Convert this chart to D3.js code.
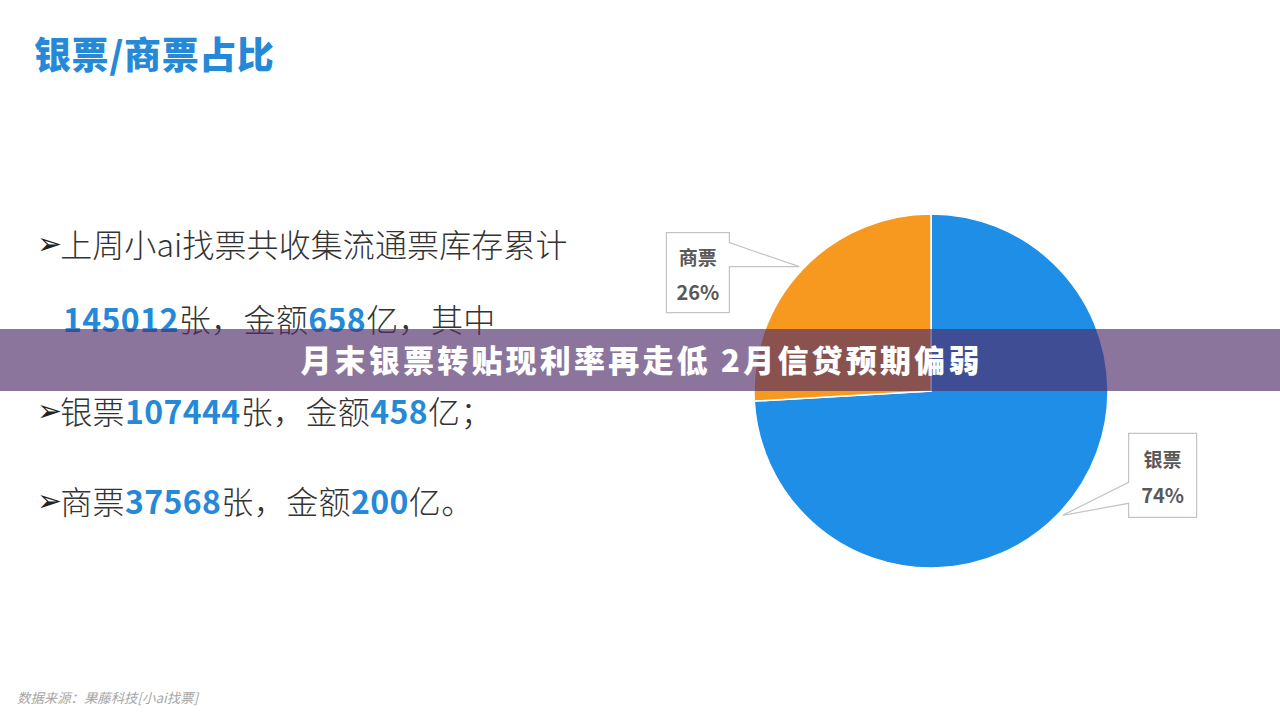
<!DOCTYPE html>
<html>
<head>
<meta charset="utf-8">
<script src="https://cdn.jsdelivr.net/npm/d3@7"></script>
<style>
  html, body { margin: 0; padding: 0; background: #ffffff; }
  svg { display: block; }
</style>
</head>
<body>
<svg id="chart" width="1280" height="720"></svg>
<script>
// ---------- data ----------
const categories = ["银票", "商票"];
const counts = [107444, 37568];      // 张
const amounts = [458, 200];          // 亿
const totalCount = 145012;
const totalAmount = 658;
const pageTitle = "银票/商票占比";
const bannerTitle = "月末银票转贴现利率再走低 2月信贷预期偏弱";
const sourceNote = "数据来源：果藤科技[小ai找票]";

// ---------- setup ----------
const W = 1280, H = 720;
const svg = d3.select("#chart");
const CJK = "'Noto Sans CJK SC', 'Microsoft YaHei', sans-serif";
const BLUE = "#1f8ee6", ORANGE = "#f7981f";
const TEXT_BLUE = "#2589d8";

svg.append("rect").attr("width", W).attr("height", H).attr("fill", "#ffffff");

// page title
svg.append("text")
  .attr("x", 34).attr("y", 53)
  .attr("dominant-baseline", "central")
  .attr("font-family", CJK).attr("font-weight", 900)
  .attr("font-size", 37).attr("letter-spacing", 0.6).attr("fill", TEXT_BLUE)
  .text(pageTitle);

// ---------- left text block ----------
const lines = [
  { y: 243, x: 37, ls: 0.1, segs: [{ t: "➢", arrow: true }, { t: "上周小ai找票共收集流通票库存累计" }] },
  { y: 318, x: 63, ls: 0.4, segs: [{ t: String(totalCount), b: true }, { t: "张，金额" }, { t: String(totalAmount), b: true }, { t: "亿，其中" }] },
  { y: 410, x: 37, ls: 0.4, segs: [{ t: "➢", arrow: true }, { t: categories[0] }, { t: String(counts[0]), b: true }, { t: "张，金额" }, { t: String(amounts[0]), b: true }, { t: "亿；" }] },
  { y: 500, x: 37, ls: 0.4, segs: [{ t: "➢", arrow: true }, { t: categories[1] }, { t: String(counts[1]), b: true }, { t: "张，金额" }, { t: String(amounts[1]), b: true }, { t: "亿。" }] }
];

lines.forEach(l => {
  const t = svg.append("text")
    .attr("x", l.x).attr("y", l.y)
    .attr("dominant-baseline", "central")
    .attr("font-family", CJK).attr("font-size", 32)
    .attr("font-weight", 300).attr("fill", "#333333")
    .attr("letter-spacing", l.ls);
  l.segs.forEach(s => {
    const ts = t.append("tspan").text(s.t);
    if (s.b) ts.attr("font-weight", 700).attr("fill", TEXT_BLUE);
    if (s.arrow) ts.attr("font-family", "'DejaVu Sans', sans-serif").attr("font-size", 30)
      .attr("font-weight", 700).attr("fill", "#222").attr("letter-spacing", -2);
  });
});

// ---------- pie ----------
const cx = 931, cy = 391, R = 177;
const total = d3.sum(counts);
const pieData = categories.map((c, i) => ({ name: c, value: counts[i] }));
const color = d3.scaleOrdinal().domain(categories).range([BLUE, ORANGE]);
const pie = d3.pie().value(d => d.value).sort(null);
const arc = d3.arc().innerRadius(0).outerRadius(R);
const tipArc = d3.arc().innerRadius(R * 1.023).outerRadius(R * 1.023);

const g = svg.append("g").attr("transform", `translate(${cx},${cy})`);
const arcs = pie(pieData);
g.selectAll("path.slice").data(arcs).enter().append("path")
  .attr("class", "slice")
  .attr("d", arc)
  .attr("fill", d => color(d.data.name))
  .attr("stroke", "#ffffff").attr("stroke-width", 1.5);

// callout labels (box offsets relative to the tip on each slice's mid angle)
const calloutLayout = {
  "商票": { dx: -133, dy: -34, w: 63, h: 80, side: "right", t1: 10, t2: 34 },
  "银票": { dx: 66, dy: -82, w: 68, h: 84, side: "left", t1: 49, t2: 70 }
};
const pct = d3.format(".0%");

arcs.forEach(a => {
  const L = calloutLayout[a.data.name];
  const [tx, ty] = tipArc.centroid(a);
  const tipX = cx + tx, tipY = cy + ty;
  const bx = tipX + L.dx, by = tipY + L.dy;
  let p;
  if (L.side === "right") {
    const ex = bx + L.w;
    p = [[bx, by], [ex, by], [ex, by + L.t1], [tipX, tipY], [ex, by + L.t2], [ex, by + L.h], [bx, by + L.h]];
  } else {
    p = [[bx, by], [bx + L.w, by], [bx + L.w, by + L.h], [bx, by + L.h], [bx, by + L.t2], [tipX, tipY], [bx, by + L.t1]];
  }
  svg.append("path")
    .attr("d", d3.line()(p) + "Z")
    .attr("fill", "#ffffff").attr("stroke", "#c4c4c4").attr("stroke-width", 1.2);
  const mx = bx + L.w / 2;
  svg.append("text")
    .attr("x", mx).attr("y", by + L.h * 0.3)
    .attr("text-anchor", "middle").attr("dominant-baseline", "central")
    .attr("font-family", CJK).attr("font-weight", 700).attr("font-size", 19)
    .attr("fill", "#595959").text(a.data.name);
  svg.append("text")
    .attr("x", mx).attr("y", by + L.h * 0.73)
    .attr("text-anchor", "middle").attr("dominant-baseline", "central")
    .attr("font-family", CJK).attr("font-weight", 700).attr("font-size", 20)
    .attr("fill", "#595959").text(pct(a.data.value / total));
});

// ---------- source note ----------
svg.append("text")
  .attr("x", 17).attr("y", 697)
  .attr("dominant-baseline", "central")
  .attr("font-family", CJK).attr("font-style", "italic")
  .attr("font-size", 13.4).attr("fill", "#a6a6a6")
  .text(sourceNote);

// ---------- banner overlay ----------
svg.append("rect")
  .attr("x", 0).attr("y", 329).attr("width", W).attr("height", 62)
  .attr("fill", "rgb(80,45,105)").attr("fill-opacity", 0.66);
svg.append("text")
  .attr("x", W / 2 + 1.5).attr("y", 358)
  .attr("text-anchor", "middle").attr("dominant-baseline", "central")
  .attr("font-family", CJK).attr("font-weight", 900)
  .attr("font-size", 31).attr("letter-spacing", 3.2)
  .attr("fill", "#ffffff")
  .text(bannerTitle);
</script>
</body>
</html>
